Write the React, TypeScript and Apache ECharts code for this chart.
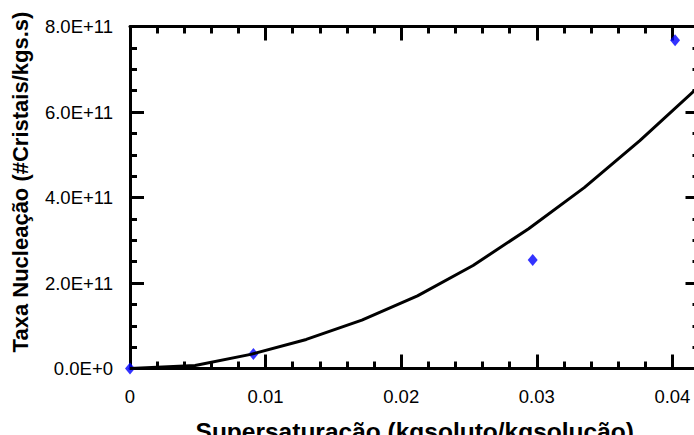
import React, { useEffect, useRef } from "react";
import * as echarts from "echarts";

// Measured points (supersaturation, nucleation rate)
const measuredX = [0, 0.0091, 0.0297, 0.0402];
const measuredY = [0, 3.4e10, 2.54e11, 7.68e11];

// Model curve
const curveX = [0, 0.0048, 0.0089, 0.013, 0.0171, 0.0212, 0.0253, 0.0294, 0.0335, 0.0376, 0.0417];
const curveY = [0, 0.07e11, 0.33e11, 0.68e11, 1.13e11, 1.7e11, 2.41e11, 3.27e11, 4.23e11, 5.33e11, 6.52e11];

const xTitle = "Supersaturação (kgsoluto/kgsolução)";
const yTitle = "Taxa Nucleação (#Cristais/kgs.s)";

const FONT = "'Liberation Sans', Arial, Helvetica, sans-serif";
const X_MIN = 0;
const X_MAX = 0.042;
const Y_MIN = 0;
const Y_MAX = 8e11;

export default function App() {
  const ref = useRef<HTMLDivElement>(null);
  useEffect(() => {
    if (!ref.current) return;
    const chart = echarts.init(ref.current, undefined, { renderer: "svg" });
    const xFmt = (v: number) => {
      const r = Math.round(v * 100);
      if (Math.abs(v * 100 - r) > 1e-6) return "";
      return r === 0 ? "0" : (r / 100).toFixed(2);
    };
    const yFmt = (v: number) => (v === 0 ? "0.0E+0" : (v / 1e11).toFixed(1) + "E+11");
    const split = () => ({ show: true, lineStyle: { color: "rgba(0,0,0,0)", width: 1 } });
    const mkX = (pos: string, interval: number, len: number, showLine: boolean) => ({
      type: "value",
      min: X_MIN,
      max: X_MAX,
      interval,
      position: pos,
      splitLine: split(),
      axisLine: { show: showLine, onZero: false, lineStyle: { color: "#000", width: 3 } },
      axisTick: { show: true, inside: true, length: len, lineStyle: { color: "#000", width: 3 } },
      axisLabel: { show: false },
    });
    const mkY = (pos: string, interval: number, len: number, showLine: boolean) => ({
      type: "value",
      min: Y_MIN,
      max: Y_MAX,
      interval,
      position: pos,
      splitLine: split(),
      axisLine: { show: showLine, onZero: false, lineStyle: { color: "#000", width: 3 } },
      axisTick: { show: true, inside: true, length: len, lineStyle: { color: "#000", width: 3 } },
      axisLabel: { show: false },
    });
    chart.setOption({
      animation: false,
      grid: {
        left: 130,
        top: 26.5,
        width: 569.5,
        height: 342,
        outerBoundsMode: "none",
      },
      xAxis: [
        {
          ...mkX("bottom", 0.01, 14, true),
          axisLabel: { show: true, formatter: xFmt, color: "#000", fontFamily: FONT, fontSize: 18.5, margin: 18 },
          name: xTitle,
          nameLocation: "middle",
          nameGap: 50,
          nameMoveOverlap: false,
          nameTextStyle: { color: "#000", fontFamily: FONT, fontSize: 24.5, fontWeight: "bold" },
        },
        mkX("bottom", 0.002, 7, false),
        mkX("top", 0.01, 14, true),
        mkX("top", 0.002, 7, false),
      ],
      yAxis: [
        {
          ...mkY("left", 2e11, 14, true),
          axisLabel: { show: true, formatter: yFmt, color: "#000", fontFamily: FONT, fontSize: 18.5, margin: 17 },
        },
        mkY("left", 5e10, 7, false),
        mkY("right", 2e11, 14, true),
        mkY("right", 5e10, 7, false),
      ],
      graphic: [
        {
          type: "text",
          x: 20,
          y: 182,
          rotation: Math.PI / 2,
          style: {
            text: yTitle,
            fill: "#000",
            font: `bold 22px ${FONT}`,
            textAlign: "center",
            textVerticalAlign: "middle",
          },
        },
      ],
      series: [
        {
          type: "line",
          xAxisIndex: 0,
          yAxisIndex: 0,
          data: curveX.map((x, i) => [x, curveY[i]]),
          showSymbol: false,
          symbol: "none",
          lineStyle: { color: "#000", width: 3 },
        },
        {
          type: "scatter",
          xAxisIndex: 0,
          yAxisIndex: 0,
          data: measuredX.map((x, i) => [x, measuredY[i]]),
          symbol: "diamond",
          symbolSize: [10, 12],
          itemStyle: { color: "#0000ff" },
          clip: false,
        },
      ],
    });
    return () => chart.dispose();
  }, []);
  return (
    <div
      style={{
        position: "fixed",
        left: 0,
        top: 0,
        width: 694,
        height: 435,
        overflow: "hidden",
        background: "#fff",
      }}
    >
      <div ref={ref} style={{ width: 712, height: 435 }} />
    </div>
  );
}
